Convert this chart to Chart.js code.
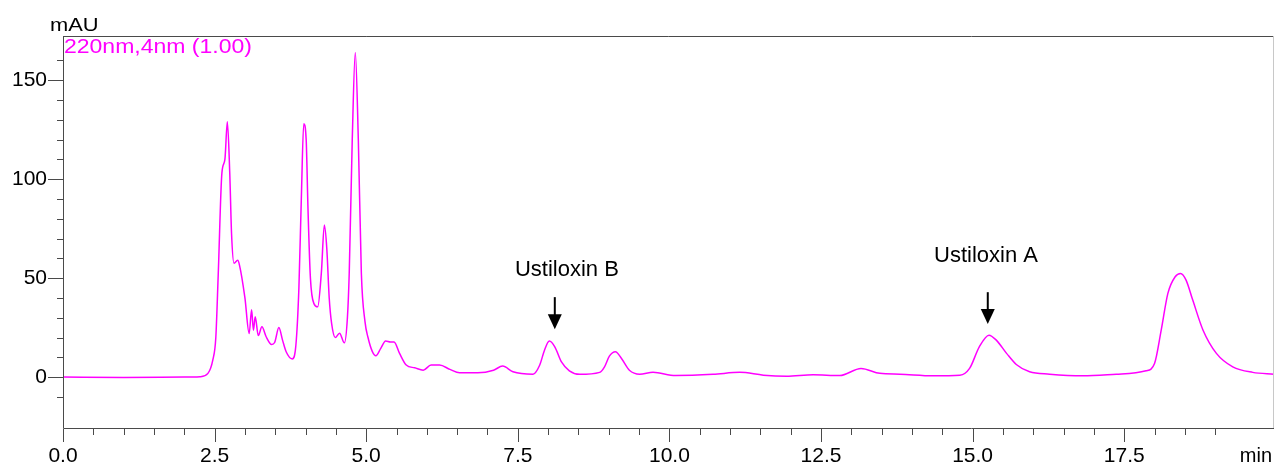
<!DOCTYPE html>
<html>
<head>
<meta charset="utf-8">
<script src="https://cdn.jsdelivr.net/npm/chart.js@4.4.1/dist/chart.umd.min.js"></script>
<style>
  html, body { margin: 0; padding: 0; background: #fff; }
  #wrap { width: 1275px; height: 466px; position: relative; }
</style>
</head>
<body>
<div id="wrap"><canvas id="chrom"></canvas></div>
<script>
// retention time (min) and detector response (mAU)
const times = [
  0, 1.0, 2.0, 2.26, 2.39, 2.47, 2.52, 2.56, 2.62, 2.67, 2.71, 2.75, 2.78, 2.82, 2.88, 2.91,
  3.0, 3.07, 3.11, 3.14, 3.17, 3.22, 3.28, 3.35, 3.44, 3.49, 3.56, 3.62, 3.68, 3.78, 3.84,
  3.89, 3.93, 3.97, 4.01, 4.04, 4.08, 4.14, 4.20, 4.26, 4.31, 4.35, 4.39, 4.43, 4.49, 4.56,
  4.64, 4.69, 4.72, 4.77, 4.82, 4.87, 4.92, 4.98, 5.03, 5.10, 5.16, 5.24, 5.32, 5.40, 5.46,
  5.55, 5.66, 5.80, 5.94, 6.07, 6.21, 6.38, 6.54, 6.84, 7.10, 7.25, 7.42, 7.75, 7.86, 7.94,
  8.02, 8.11, 8.22, 8.35, 8.52, 8.85, 8.93, 9.01, 9.11, 9.21, 9.34, 9.51, 9.73, 10.1, 10.72,
  11.16, 11.55, 11.93, 12.37, 12.81, 13.16, 13.47, 13.80, 14.35, 14.79, 14.95, 15.11, 15.27,
  15.39, 15.56, 15.72, 15.94, 16.27, 16.82, 17.37, 17.86, 18.0, 18.11, 18.22, 18.34, 18.43,
  18.52, 18.63, 18.80, 19.02, 19.29, 19.62, 19.97
];
const absorbance = [
  0, -0.2, 0, 0.2, 1.9, 8.6, 20, 52, 103, 110, 129, 103, 72, 57.5, 59, 56.6,
  40, 22, 34, 23.7, 30.5, 21, 25.4, 20.4, 16.5, 17.5, 25, 18.7, 12.8, 9.2, 16,
  45, 90, 128, 120, 85, 50, 37, 35.5, 52.5, 76.8, 65, 40, 27, 20, 22.2,
  17.3, 30, 52.5, 120, 164, 120, 52.5, 28, 20, 13, 10.8, 14.5, 18.2, 17.7, 17.8,
  12, 6.1, 4.7, 3.5, 6.1, 6.1, 3.9, 2.2, 2.2, 3.5, 5.6, 2.7, 1.5, 6, 13.6,
  18.2, 15.3, 7.7, 3.2, 1.4, 2.4, 5.2, 10.6, 12.8, 9.4, 3.5, 1.5, 2.4, 0.8, 1.4,
  2.4, 1, 0.5, 1.2, 0.8, 4.4, 1.9, 1.5, 0.7, 1, 4.4, 15.3, 21.2,
  18.7, 12, 6.4, 2.7, 1.5, 0.7, 1.5, 3.2, 6.9, 23.7, 42.3, 50.7, 52.4,
  49, 38.9, 23.7, 12, 5.2, 2.4, 1.5
];

const xMin = 0, xMax = 19.97;
const yMin = -25.7, yMax = 172.3;
const xLabelStep = 2.5;
const yLabelStep = 50;

// peak annotations: label, arrow position (min), arrow top / tip (mAU), label baseline (mAU)
const peakNames = ['Ustiloxin B', 'Ustiloxin A'];
const peakTimes = [8.11, 15.25];
const arrowTop = [40.4, 42.9];
const arrowTip = [24.2, 26.8];
const labelTimes = [8.31, 15.22];
const labelLevels = [51, 58];

const TRACE = '#ff00ff';
const AXIS = '#4a4a4a';
const FONT = '"Liberation Sans", Arial, sans-serif';

function isMultiple(v, step) {
  return Math.abs(v / step - Math.round(v / step)) < 1e-6;
}

const frame = {
  id: 'frame',
  afterDraw(chart) {
    const { ctx, chartArea: a, scales } = chart;
    const xs = scales.x, ys = scales.y;
    ctx.save();
    ctx.lineWidth = 1;
    ctx.strokeStyle = AXIS;
    ctx.beginPath();
    ctx.moveTo(a.left + 0.5, a.top + 0.5);
    ctx.lineTo(a.right, a.top + 0.5);
    ctx.moveTo(a.left + 0.5, a.top);
    ctx.lineTo(a.left + 0.5, a.bottom + 0.5);
    ctx.lineTo(a.right, a.bottom + 0.5);
    ctx.stroke();
    ctx.strokeStyle = '#c8c8c8';
    ctx.beginPath();
    ctx.moveTo(a.right - 0.5, a.top);
    ctx.lineTo(a.right - 0.5, a.bottom);
    ctx.stroke();

    // tick marks, long on labelled values
    ctx.strokeStyle = AXIS;
    ctx.beginPath();
    xs.ticks.forEach(t => {
      const px = Math.round(xs.getPixelForValue(t.value)) + 0.5;
      const len = isMultiple(t.value, xLabelStep) ? 13 : 6;
      ctx.moveTo(px, a.bottom + 1);
      ctx.lineTo(px, a.bottom + 1 + len);
    });
    ys.ticks.forEach(t => {
      const py = Math.round(ys.getPixelForValue(t.value)) + 0.5;
      const len = isMultiple(t.value, yLabelStep) ? 15 : 6;
      ctx.moveTo(a.left, py);
      ctx.lineTo(a.left - len, py);
    });
    ctx.stroke();

    // unit labels and channel name
    ctx.fillStyle = '#000';
    ctx.textBaseline = 'alphabetic';
    ctx.font = '19px ' + FONT;
    ctx.save();
    ctx.translate(50, 31);
    ctx.scale(1.15, 1);
    ctx.fillText('mAU', 0, 0);
    ctx.restore();
    ctx.font = '20px ' + FONT;
    ctx.textAlign = 'right';
    ctx.fillText('min', 1272, 462);
    ctx.textAlign = 'left';
    ctx.fillStyle = TRACE;
    ctx.save();
    ctx.translate(a.left + 1, a.top + 17);
    ctx.scale(1.15, 1);
    ctx.fillText('220nm,4nm (1.00)', 0, 0);
    ctx.restore();

    // peak arrows
    ctx.fillStyle = '#000';
    ctx.strokeStyle = '#000';
    ctx.lineWidth = 2;
    ctx.font = '22px ' + FONT;
    ctx.textAlign = 'center';
    peakNames.forEach((name, i) => {
      const px = xs.getPixelForValue(peakTimes[i]);
      const top = ys.getPixelForValue(arrowTop[i]);
      const tip = ys.getPixelForValue(arrowTip[i]);
      ctx.beginPath();
      ctx.moveTo(px, top);
      ctx.lineTo(px, tip - 10);
      ctx.stroke();
      ctx.beginPath();
      ctx.moveTo(px - 7, tip - 15);
      ctx.lineTo(px + 7, tip - 15);
      ctx.lineTo(px, tip);
      ctx.closePath();
      ctx.fill();
      ctx.fillText(name, xs.getPixelForValue(labelTimes[i]), ys.getPixelForValue(labelLevels[i]));
    });
    ctx.restore();
  }
};

new Chart(document.getElementById('chrom'), {
  type: 'line',
  data: {
    datasets: [{
      data: times.map((t, i) => ({ x: t, y: absorbance[i] })),
      borderColor: TRACE,
      borderWidth: 1.5,
      pointRadius: 0,
      cubicInterpolationMode: 'monotone',
      fill: false
    }]
  },
  options: {
    responsive: true,
    maintainAspectRatio: false,
    animation: false,
    layout: { padding: { top: 36, right: 1, left: 0, bottom: 0 } },
    plugins: { legend: { display: false }, tooltip: { enabled: false } },
    scales: {
      x: {
        type: 'linear',
        min: xMin,
        max: xMax,
        afterBuildTicks: s => { s.ticks = s.ticks.filter(t => isMultiple(t.value, 0.5)); },
        afterFit: s => { s.height = 38; },
        grid: { display: false, drawTicks: true, tickLength: 13 },
        border: { display: false },
        ticks: {
          stepSize: 0.5,
          autoSkip: false,
          maxRotation: 0,
          padding: 3,
          color: '#000',
          font: { family: FONT, size: 21 },
          callback: v => isMultiple(v, xLabelStep) ? v.toFixed(1) : ''
        }
      },
      y: {
        min: yMin,
        max: yMax,
        afterBuildTicks: s => { s.ticks = s.ticks.filter(t => isMultiple(t.value, 10)); },
        afterFit: s => { s.width = 63; },
        grid: { display: false, drawTicks: true, tickLength: 15 },
        border: { display: false },
        ticks: {
          stepSize: 10,
          autoSkip: false,
          padding: 1,
          color: '#000',
          font: { family: FONT, size: 21 },
          callback: v => isMultiple(v, yLabelStep) ? String(v) : ''
        }
      }
    }
  },
  plugins: [frame]
});
</script>
</body>
</html>
